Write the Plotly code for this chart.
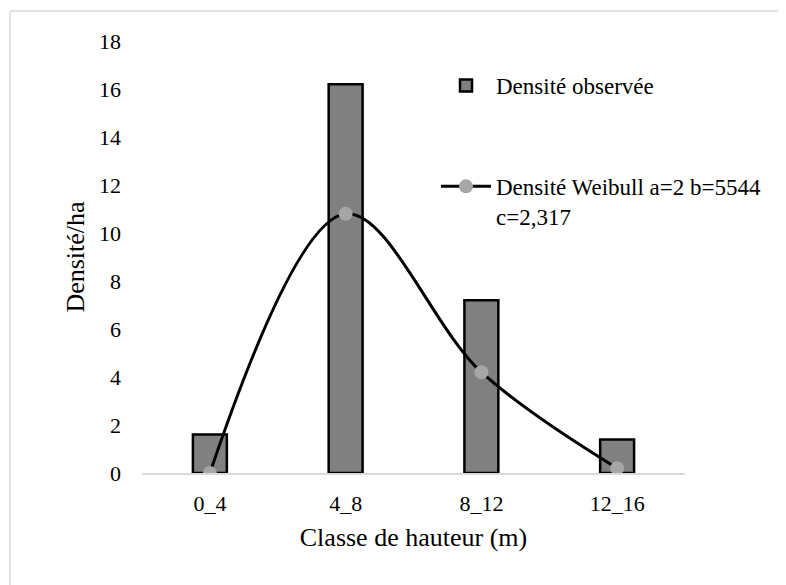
import plotly.graph_objects as go

categories = ["0_4", "4_8", "8_12", "12_16"]
observed = [1.6, 16.2, 7.2, 1.4]
weibull = [0.0, 10.8, 4.2, 0.2]
y_ticks = [0, 2, 4, 6, 8, 10, 12, 14, 16, 18]

FONT = "Liberation Serif"

fig = go.Figure()
fig.add_trace(go.Bar(
    x=categories, y=observed, name="Densité observée",
    marker=dict(color="#808080", line=dict(color="black", width=2.5)),
    legendgroup="a",
))
fig.add_trace(go.Scatter(
    x=categories, y=weibull, name="Densité Weibull a=2 b=5544<br>c=2,317",
    mode="lines+markers",
    line=dict(color="black", width=3, shape="spline", smoothing=1.0),
    marker=dict(color="#a6a6a6", size=14),
    legendgroup="b",
))

# page body adds an 8px offset; target coordinates are shifted accordingly
OFF = 8
W, H = 786, 585
L, R, T, B = 142 - OFF, 101 + OFF, 41 - OFF, 112 + OFF
pw, ph = W - L - R, H - T - B

def px(x):
    return (x - OFF - L) / pw

def py(y):
    return (H - B - (y - OFF)) / ph

fig.update_layout(
    width=W, height=H,
    margin=dict(l=L, r=R, t=T, b=B),
    paper_bgcolor="white", plot_bgcolor="white",
    font=dict(family=FONT, size=22, color="black"),
    bargap=0.75,
    showlegend=True,
    legend=dict(
        x=px(436), y=py(64), xanchor="left", yanchor="top",
        font=dict(family=FONT, size=23, color="black"),
        tracegroupgap=68, itemwidth=50, valign="top",
        bgcolor="rgba(0,0,0,0)",
    ),
    xaxis=dict(
        showline=True, linecolor="#d9d9d9", linewidth=1.5,
        ticks="", showgrid=False, zeroline=False, ticklabelstandoff=10,
        tickfont=dict(family=FONT, size=22, color="black"),
        title=dict(text="Classe de hauteur (m)", font=dict(family=FONT, size=26, color="black"), standoff=13),
    ),
    yaxis=dict(
        range=[0, 18], tickvals=y_ticks, showline=False, showgrid=False,
        zeroline=False, ticks="", ticklabelstandoff=20,
        tickfont=dict(family=FONT, size=22, color="black"),
        title=dict(text="Densité/ha", font=dict(family=FONT, size=26, color="black"), standoff=6),
    ),
    shapes=[
        dict(type="line", xref="paper", yref="paper",
             x0=px(10), x1=px(800), y0=py(11), y1=py(11),
             line=dict(color="#d9d9d9", width=1.5)),
        dict(type="line", xref="paper", yref="paper",
             x0=px(10), x1=px(10), y0=py(11), y1=py(600),
             line=dict(color="#d9d9d9", width=1.5)),
    ],
)

fig.write_html("out.html")
